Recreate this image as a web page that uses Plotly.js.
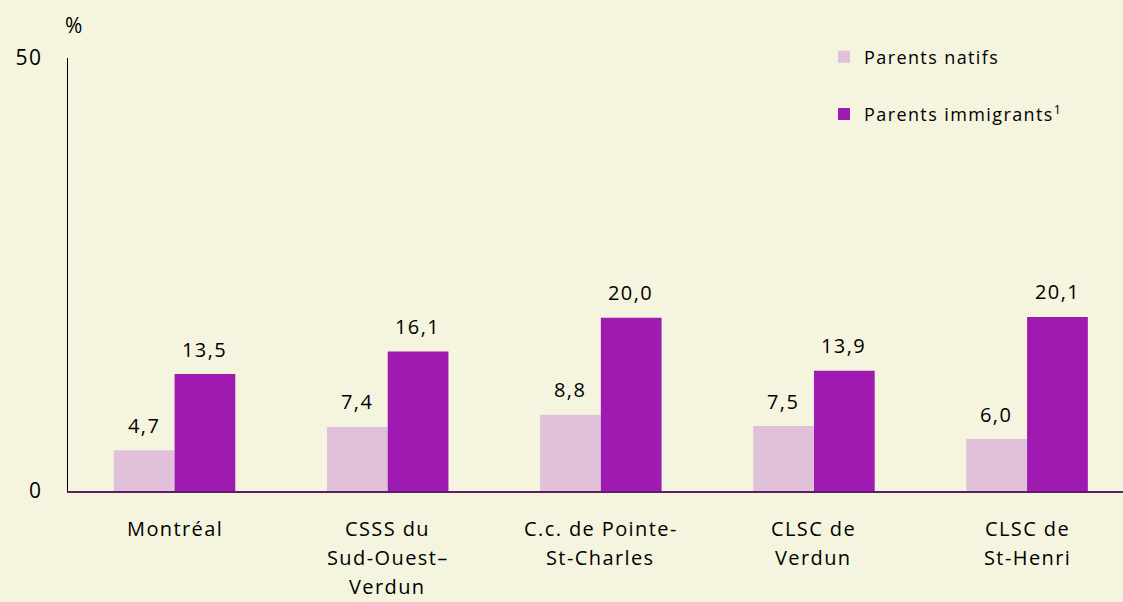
<!DOCTYPE html>
<html>
<head>
<meta charset="utf-8">
<script src="https://cdn.plot.ly/plotly-3.0.1.min.js"></script>
<style>
  html, body { margin: 0; padding: 0; background: #F5F5DF; }
  #chart { width: 1123px; height: 602px; }
  .annotation-text, .legendtext, .ytick text { letter-spacing: 1.4px; }
</style>
</head>
<body>
<div id="chart"></div>
<script>
const categories = ["Montréal", "CSSS du Sud-Ouest–Verdun", "C.c. de Pointe-St-Charles", "CLSC de Verdun", "CLSC de St-Henri"];
const categoryLines = [
  ["Montréal"],
  ["CSSS du", "Sud-Ouest–", "Verdun"],
  ["C.c. de Pointe-", "St-Charles"],
  ["CLSC de", "Verdun"],
  ["CLSC de", "St-Henri"]
];
const seriesNames = ["Parents natifs", "Parents immigrants<sup>1</sup>"];
const parentsNatifs = [4.7, 7.4, 8.8, 7.5, 6.0];
const parentsImmigrants = [13.5, 16.1, 20.0, 13.9, 20.1];
const yTicks = [0, 50];

const colors = ["#E1C1D9", "#9E1AB0"];
const FONT = "Open Sans, sans-serif";
const fmt = v => v.toFixed(1).replace(".", ",");

const traces = [parentsNatifs, parentsImmigrants].map((vals, k) => ({
  type: "bar",
  name: seriesNames[k],
  x: categories,
  y: vals,
  marker: { color: colors[k], line: { width: 0 } },
  hoverinfo: "skip",
  legendgroup: "g" + k
}));

const annotations = [];
// value labels
[parentsNatifs, parentsImmigrants].forEach((vals, k) => {
  vals.forEach((v, i) => {
    annotations.push({
      x: categories[i], y: v, xref: "x", yref: "y",
      text: fmt(v), showarrow: false,
      xshift: k === 0 ? -31 : 30, yshift: 25,
      xanchor: "center", yanchor: "middle",
      font: { family: FONT, size: 20, color: "#000" }
    });
  });
});
// category labels (multi-line)
categoryLines.forEach((lines, i) => {
  lines.forEach((line, j) => {
    annotations.push({
      x: categories[i], y: 0, xref: "x", yref: "y",
      text: line, showarrow: false,
      yshift: -(37 + 29 * j),
      xanchor: "center", yanchor: "middle",
      font: { family: FONT, size: 20, color: "#000" }
    });
  });
});
// unit
annotations.push({
  x: 0, y: 1, xref: "paper", yref: "paper",
  text: "%", showarrow: false, xshift: 6, yshift: 33,
  xanchor: "center", yanchor: "middle",
  font: { family: FONT, size: 21, color: "#000" }
});

const layout = {
  width: 1123, height: 602,
  paper_bgcolor: "#F5F5DF", plot_bgcolor: "#F5F5DF",
  margin: { l: 68, r: 0, t: 58, b: 111 },
  barmode: "group", bargap: 0.43, bargroupgap: 0,
  font: { family: FONT, size: 20, color: "#000" },
  xaxis: {
    type: "category", range: [-0.5, 4.45],
    showticklabels: false, ticks: "", showgrid: false, zeroline: false,
    showline: true, linecolor: "#5E1E62", linewidth: 2, fixedrange: true
  },
  yaxis: {
    range: [0, 50], tickvals: yTicks, ticktext: yTicks.map(String),
    ticks: "", showgrid: false, zeroline: false,
    showline: true, linecolor: "#000", linewidth: 1.5,
    ticklabelstandoff: 20,
    tickfont: { family: FONT, size: 21, color: "#000" }, fixedrange: true
  },
  showlegend: true,
  legend: {
    x: 0.7166, xanchor: "left", y: 1.045, yanchor: "top",
    bgcolor: "rgba(0,0,0,0)", borderwidth: 0,
    traceorder: "grouped", tracegroupgap: 31,
    font: { family: FONT, size: 18, color: "#000" }
  },
  annotations: annotations
};

Plotly.newPlot("chart", traces, layout, { displayModeBar: false, staticPlot: true });
</script>
</body>
</html>
